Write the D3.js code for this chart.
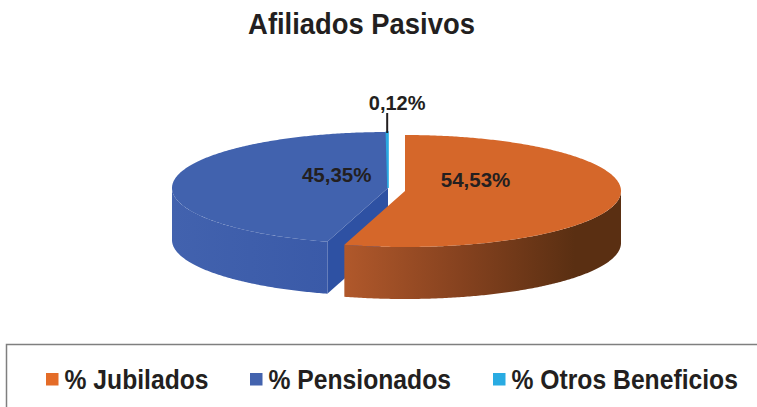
<!DOCTYPE html>
<html><head><meta charset="utf-8">
<script src="https://cdn.jsdelivr.net/npm/d3@7"></script>
<style>html,body{margin:0;padding:0;background:#fff;}svg{display:block;}</style>
</head><body>
<script>
const title = "Afiliados Pasivos";
const categories = ["% Jubilados", "% Pensionados", "% Otros Beneficios"];
const values = [54.53, 45.35, 0.12];
const valueLabels = ["54,53%", "45,35%", "0,12%"];

const W = 757, H = 407;
const topColors = ["#D5672A", "#4162AE", "#29A9E1"];
const legendColors = ["#E46C28", "#4363AE", "#29ABE2"];
const cutColors = ["#A9542A", "#2E51A3", "#1E8FC0"];

const svg = d3.select("body").append("svg").attr("width", W).attr("height", H);
const defs = svg.append("defs");
const gOr = defs.append("linearGradient").attr("id", "gOr").attr("gradientUnits", "userSpaceOnUse")
  .attr("x1", 345).attr("x2", 575).attr("y1", 0).attr("y2", 0);
gOr.append("stop").attr("offset", 0).attr("stop-color", "#B0582B");
gOr.append("stop").attr("offset", 0.5).attr("stop-color", "#86421F");
gOr.append("stop").attr("offset", 1).attr("stop-color", "#5A2F12");
const gBl = defs.append("linearGradient").attr("id", "gBl").attr("gradientUnits", "userSpaceOnUse")
  .attr("x1", 172).attr("x2", 330).attr("y1", 0).attr("y2", 0);
gBl.append("stop").attr("offset", 0).attr("stop-color", "#4262AE");
gBl.append("stop").attr("offset", 1).attr("stop-color", "#3A5AA8");
const sideFills = ["url(#gOr)", "url(#gBl)", "#1E8FC0"];

// Title
svg.append("text").attr("transform", `translate(${W/2 - 17},34) scale(1,1.07)`)
  .attr("text-anchor", "middle").attr("font-family", "Liberation Sans, Arial, sans-serif")
  .attr("font-weight", "bold").attr("font-size", 27.4).attr("fill", "#231F20").text(title);

// 3D pie
const base = {x: 388, y: 188}, Rx = 216, Ry = 56, depth = 52;
const explode = [[17, 3], [0, 0], [0, 0]];
const arcs = d3.pie().sort(null).startAngle(0).endAngle(2 * Math.PI)(values);
const pt = (c, a, dz = 0) => [c.x + Rx * Math.sin(a), c.y - Ry * Math.cos(a) + dz];
const arcPts = (c, a0, a1, dz = 0) => {
  const n = Math.max(2, Math.ceil(Math.abs(a1 - a0) / 0.01));
  return d3.range(n + 1).map(i => pt(c, a0 + (a1 - a0) * i / n, dz));
};
const line = d3.line();

const slices = arcs.map((d, i) => ({...d, i, c: {x: base.x + explode[i][0], y: base.y + explode[i][1]}}));
const pieG = svg.append("g");

// draw order: blue, cyan, then orange (front right)
[1, 2, 0].forEach(i => {
  const s = slices[i];
  const g = pieG.append("g");
  [[s.startAngle, -1], [s.endAngle, 1]].forEach(([a, dir]) => {
    const na = a + dir * Math.PI / 2; // outward normal of the cut face
    if (-Math.cos(na) > 0.01) {
      const p = pt(s.c, a);
      const poly = [[s.c.x, s.c.y], p, [p[0], p[1] + depth], [s.c.x, s.c.y + depth]];
      g.append("path").attr("d", line(poly) + "Z").attr("fill", cutColors[i]);
    }
  });
  const a0 = Math.max(s.startAngle, Math.PI / 2), a1 = Math.min(s.endAngle, 3 * Math.PI / 2);
  if (a1 > a0) {
    const topA = arcPts(s.c, a0, a1), botA = arcPts(s.c, a1, a0, depth);
    g.append("path").attr("d", line(topA.concat(botA)) + "Z").attr("fill", sideFills[i]);
  }
  const top = [[s.c.x, s.c.y]].concat(arcPts(s.c, s.startAngle, s.endAngle));
  g.append("path").attr("d", line(top) + "Z").attr("fill", topColors[i])
    .attr("stroke", i === 2 ? topColors[i] : "none").attr("stroke-width", i === 2 ? 1.6 : 0);
});

// value labels
const labFrac = [0.33, 0.24];
const labDy = [-6.5, -4];
const font = "Liberation Sans, Arial, sans-serif";
slices.forEach((s, i) => {
  const mid = (s.startAngle + s.endAngle) / 2;
  if (i < 2) {
    const x = s.c.x + labFrac[i] * Rx * Math.sin(mid);
    const y = s.c.y - labFrac[i] * Ry * Math.cos(mid) + labDy[i];
    svg.append("text").attr("x", x).attr("y", y).attr("text-anchor", "middle")
      .attr("font-family", font).attr("font-weight", "bold").attr("font-size", 20.5)
      .attr("fill", "#231F20").text(valueLabels[i]);
  } else {
    const p = pt(s.c, mid);
    svg.append("line").attr("x1", p[0]).attr("x2", p[0]).attr("y1", p[1] + 1).attr("y2", p[1] - 19)
      .attr("stroke", "#231F20").attr("stroke-width", 2);
    svg.append("text").attr("x", p[0] + 10).attr("y", p[1] - 22).attr("text-anchor", "middle")
      .attr("font-family", font).attr("font-weight", "bold").attr("font-size", 20)
      .attr("fill", "#231F20").text(valueLabels[i]);
  }
});

// legend
svg.append("rect").attr("x", 6.5).attr("y", 344.5).attr("width", 800).attr("height", 100)
  .attr("fill", "none").attr("stroke", "#7F7F7F").attr("stroke-width", 1.5);
const legX = [46, 250, 493];
const leg = svg.append("g");
categories.forEach((c, i) => {
  leg.append("rect").attr("x", legX[i]).attr("y", 373).attr("width", 12.5).attr("height", 12.5)
    .attr("fill", legendColors[i]);
  leg.append("text").attr("transform", `translate(${legX[i] + 18.5},389) scale(1,1.12)`)
    .attr("font-family", font).attr("font-weight", "bold").attr("font-size", 24.7)
    .attr("fill", "#231F20").text(c);
});
</script>
</body></html>
